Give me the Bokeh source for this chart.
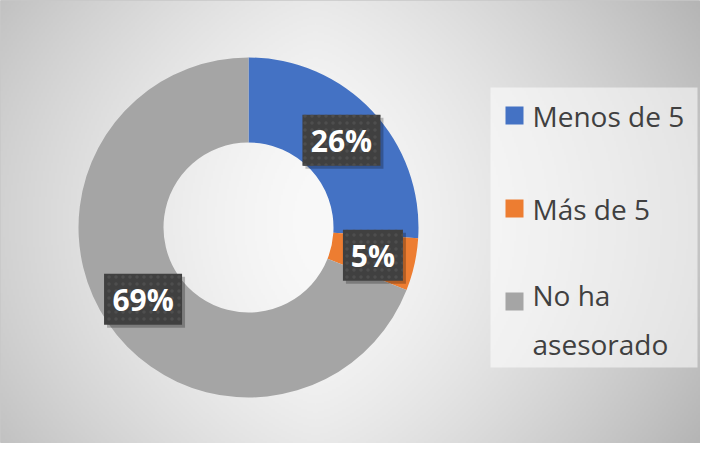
import textwrap
import numpy as np
from bokeh.plotting import figure
from bokeh.models import ColumnDataSource, Range1d
from bokeh.core.properties import value
from bokeh.embed import file_html
from bokeh.resources import INLINE

# ---- data ----
categories = ["Menos de 5", "Más de 5", "No ha asesorado"]
shares = [26, 5, 69]
pct_labels = ["26%", "5%", "69%"]
colors = ["#4472C4", "#ED7D31", "#A5A5A5"]

# ---- figure ----
W, H = 700, 443
p = figure(width=W, height=H, x_range=Range1d(0, W), y_range=Range1d(0, H),
           output_backend="svg", toolbar_location=None, min_border=0)
p.axis.visible = False
p.grid.visible = False
p.outline_line_color = "#c8c8c8"
p.background_fill_color = "#e6e6e6"
p.border_fill_color = "white"

# radial gradient background
gw, gh = 350, 222
X, Y = np.meshgrid(np.linspace(0, 1, gw), np.linspace(0, 1, gh))
dx = np.abs(X - 0.45) / 0.55
dy = np.abs(Y - 0.5) / 0.5
v = np.clip(249 - 52 * dx ** 1.4 - 16 * dy ** 2, 0, 255).astype(np.uint8)
img = np.empty((gh, gw), dtype=np.uint32)
view = img.view(dtype=np.uint8).reshape((gh, gw, 4))
view[..., 0] = v
view[..., 1] = v
view[..., 2] = v
view[..., 3] = 255
p.image_rgba(image=[img], x=0, y=0, dw=W, dh=H)

# ---- donut ----
cx, cy = 248, 216
r_in, r_out = 85, 170
fr = np.array(shares, dtype=float) / sum(shares)
cum = np.concatenate([[0.0], np.cumsum(fr)])
start = np.pi / 2 - cum[:-1] * 2 * np.pi
end = np.pi / 2 - cum[1:] * 2 * np.pi
src = ColumnDataSource(dict(cat=categories, start=start, end=end, color=colors))
p.annular_wedge(x=cx, y=cy, inner_radius=r_in, outer_radius=r_out,
                start_angle="start", end_angle="end", direction="clock",
                fill_color="color", line_color=None, source=src)

# ---- data labels ----
mid = (start + end) / 2
rm = (r_in + r_out) / 2
lx = cx + rm * np.cos(mid)
ly = cy + rm * np.sin(mid)
bw = [24 + 18 * len(s) for s in pct_labels]
lsrc = ColumnDataSource(dict(x=lx, y=ly, sx=lx + 3, sy=ly - 3, w=bw, t=pct_labels))
p.rect(x="sx", y="sy", width="w", height=51, fill_color="black", fill_alpha=0.25,
       line_color=None, source=lsrc)
p.rect(x="x", y="y", width="w", height=51, fill_color="#404040", line_color=None,
       hatch_pattern="dot", hatch_color="#4e4e4e", hatch_scale=7, hatch_weight=1.5,
       source=lsrc)
p.text(x="x", y="y", text="t", text_color="white", text_font=value("Open Sans"),
       text_font_style="bold", text_font_size="30px", text_align="center",
       text_baseline="middle", source=lsrc)

# ---- legend (drawn) ----
lg_x0, lg_w, lg_h = 490, 207, 280
p.rect(x=lg_x0 + lg_w / 2, y=cy, width=lg_w, height=lg_h, fill_color="white",
       fill_alpha=0.55, line_color=None)
step = 93
item_y = np.array([cy + 112 - i * step for i in range(len(categories))], dtype=float)
wrapped = ["\n".join(textwrap.wrap(c, 12)) for c in categories]
nlines = np.array([w.count("\n") + 1 for w in wrapped])
lh = 36
text_y = item_y - (nlines - 1) * lh / 2
gsrc = ColumnDataSource(dict(y=item_y, ty=text_y, t=wrapped, color=colors))
p.rect(x=lg_x0 + 24, y="y", width=18, height=18, fill_color="color",
       line_color=None, source=gsrc)
p.text(x=lg_x0 + 42, y="ty", text="t", text_color="#404040",
       text_font=value("Open Sans"), text_font_size="28px",
       text_line_height=lh / 28, text_align="left", text_baseline="middle",
       source=gsrc)

open("out.html", "w").write(file_html(p, INLINE))
